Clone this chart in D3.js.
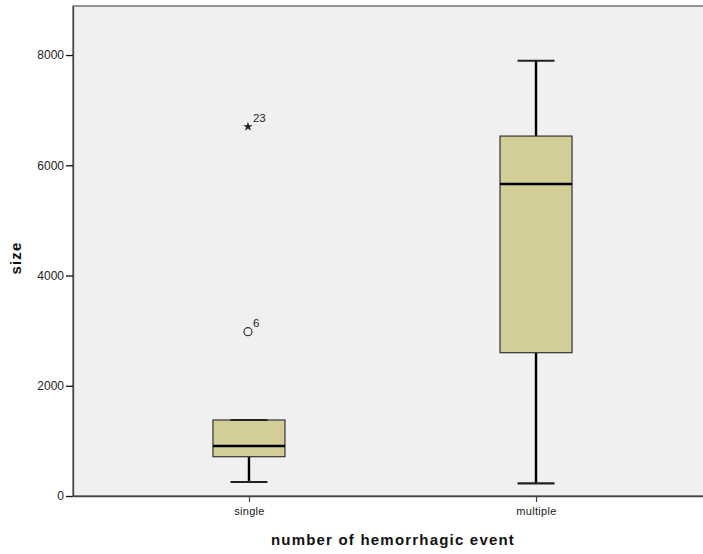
<!DOCTYPE html>
<html>
<head>
<meta charset="utf-8">
<script src="https://cdn.jsdelivr.net/npm/d3@7"></script>
<style>
  html, body { margin: 0; padding: 0; background: #ffffff; }
  svg { display: block; font-family: Arial, "Liberation Sans", sans-serif; }
</style>
</head>
<body>
<svg id="chart" width="703" height="554"></svg>
<script>
// Groups and five-number summaries of size
const categories = ["single", "multiple"];
const whiskerLow  = [254, 230];
const quartile1   = [713, 2600];
const medians     = [907, 5660];
const quartile3   = [1379, 6530];
const whiskerHigh = [1379, 7897];

// Flagged cases in the single group
const outlierGroup  = ["single", "single"];
const outlierValues = [2981, 6700];
const outlierIds    = ["6", "23"];
const outlierKinds  = ["circle", "star"];

const yTicks = [0, 2000, 4000, 6000, 8000];

const svg = d3.select("#chart");
const plotLeft = 73, plotTop = 6, plotBottom = 496, plotRight = 712;

const x = d3.scalePoint().domain(categories).range([plotLeft, plotRight]).padding(0.613);
const y = d3.scaleLinear().domain([0, 8890]).range([plotBottom, plotTop]);

// plot background with frame
svg.append("rect")
  .attr("x", plotLeft).attr("y", plotTop)
  .attr("width", plotRight - plotLeft).attr("height", plotBottom - plotTop)
  .attr("fill", "#f0f0f0").attr("stroke", "#555").attr("stroke-width", 1.2);

const boxW = 72, capW = 37;
const fill = "#d3ce97";

categories.forEach((c, i) => {
  const cx = x(c);
  const g = svg.append("g");
  // whisker stems
  g.append("line").attr("x1", cx).attr("x2", cx)
    .attr("y1", y(quartile3[i])).attr("y2", y(whiskerHigh[i]))
    .attr("stroke", "#000").attr("stroke-width", 2.4);
  g.append("line").attr("x1", cx).attr("x2", cx)
    .attr("y1", y(quartile1[i])).attr("y2", y(whiskerLow[i]))
    .attr("stroke", "#000").attr("stroke-width", 2.4);
  // box
  g.append("rect")
    .attr("x", cx - boxW / 2).attr("width", boxW)
    .attr("y", y(quartile3[i])).attr("height", y(quartile1[i]) - y(quartile3[i]))
    .attr("fill", fill).attr("stroke", "#333").attr("stroke-width", 1.2);
  // caps
  [whiskerLow[i], whiskerHigh[i]].forEach(v => {
    g.append("line").attr("x1", cx - capW / 2).attr("x2", cx + capW / 2)
      .attr("y1", y(v)).attr("y2", y(v))
      .attr("stroke", "#222").attr("stroke-width", 2.2);
  });
  // median
  g.append("line").attr("x1", cx - boxW / 2).attr("x2", cx + boxW / 2)
    .attr("y1", y(medians[i])).attr("y2", y(medians[i]))
    .attr("stroke", "#000").attr("stroke-width", 2.6);
});

// outliers
outlierValues.forEach((v, i) => {
  const cx = x(outlierGroup[i]) - 1, cy = y(v);
  if (outlierKinds[i] === "circle") {
    svg.append("circle").attr("cx", cx).attr("cy", cy).attr("r", 4)
      .attr("fill", "none").attr("stroke", "#333").attr("stroke-width", 1.2);
  } else {
    svg.append("path")
      .attr("d", d3.symbol().type(d3.symbolStar).size(28)())
      .attr("transform", `translate(${cx},${cy})`)
      .attr("fill", "#222");
  }
  svg.append("text")
    .attr("x", cx + 5).attr("y", cy - 5)
    .attr("font-size", 11.5).attr("fill", "#222")
    .text(outlierIds[i]);
});

// y axis
const yAxis = svg.append("g")
  .attr("transform", `translate(${plotLeft},0)`)
  .call(d3.axisLeft(y).tickValues(yTicks).tickFormat(d3.format("d"))
    .tickSize(7).tickPadding(2).tickSizeOuter(0));
yAxis.select(".domain").attr("stroke", "#444").attr("stroke-width", 1.3);
yAxis.selectAll(".tick line").attr("stroke", "#111").attr("stroke-width", 1.3);
yAxis.selectAll(".tick text").attr("font-size", 12).attr("fill", "#222")
  .attr("font-family", "Arial, 'Liberation Sans', sans-serif");

// x axis
const xAxis = svg.append("g")
  .attr("transform", `translate(0,${plotBottom})`)
  .call(d3.axisBottom(x).tickSize(6).tickPadding(5).tickSizeOuter(0));
xAxis.select(".domain").attr("stroke", "#444").attr("stroke-width", 1.5);
xAxis.selectAll(".tick line").attr("stroke", "#444").attr("stroke-width", 1.2);
xAxis.selectAll(".tick text").attr("font-size", 11).attr("fill", "#222")
  .attr("letter-spacing", 0.3)
  .attr("font-family", "Arial, 'Liberation Sans', sans-serif");

// axis titles
svg.append("text")
  .attr("x", 393).attr("y", 545)
  .attr("text-anchor", "middle")
  .attr("font-size", 15).attr("font-weight", "bold").attr("fill", "#111")
  .attr("letter-spacing", 1.2)
  .text("number of hemorrhagic event");

svg.append("text")
  .attr("transform", "translate(21,258) rotate(-90)")
  .attr("text-anchor", "middle")
  .attr("font-size", 15).attr("font-weight", "bold").attr("fill", "#111")
  .attr("letter-spacing", 1.2)
  .text("size");
</script>
</body>
</html>
